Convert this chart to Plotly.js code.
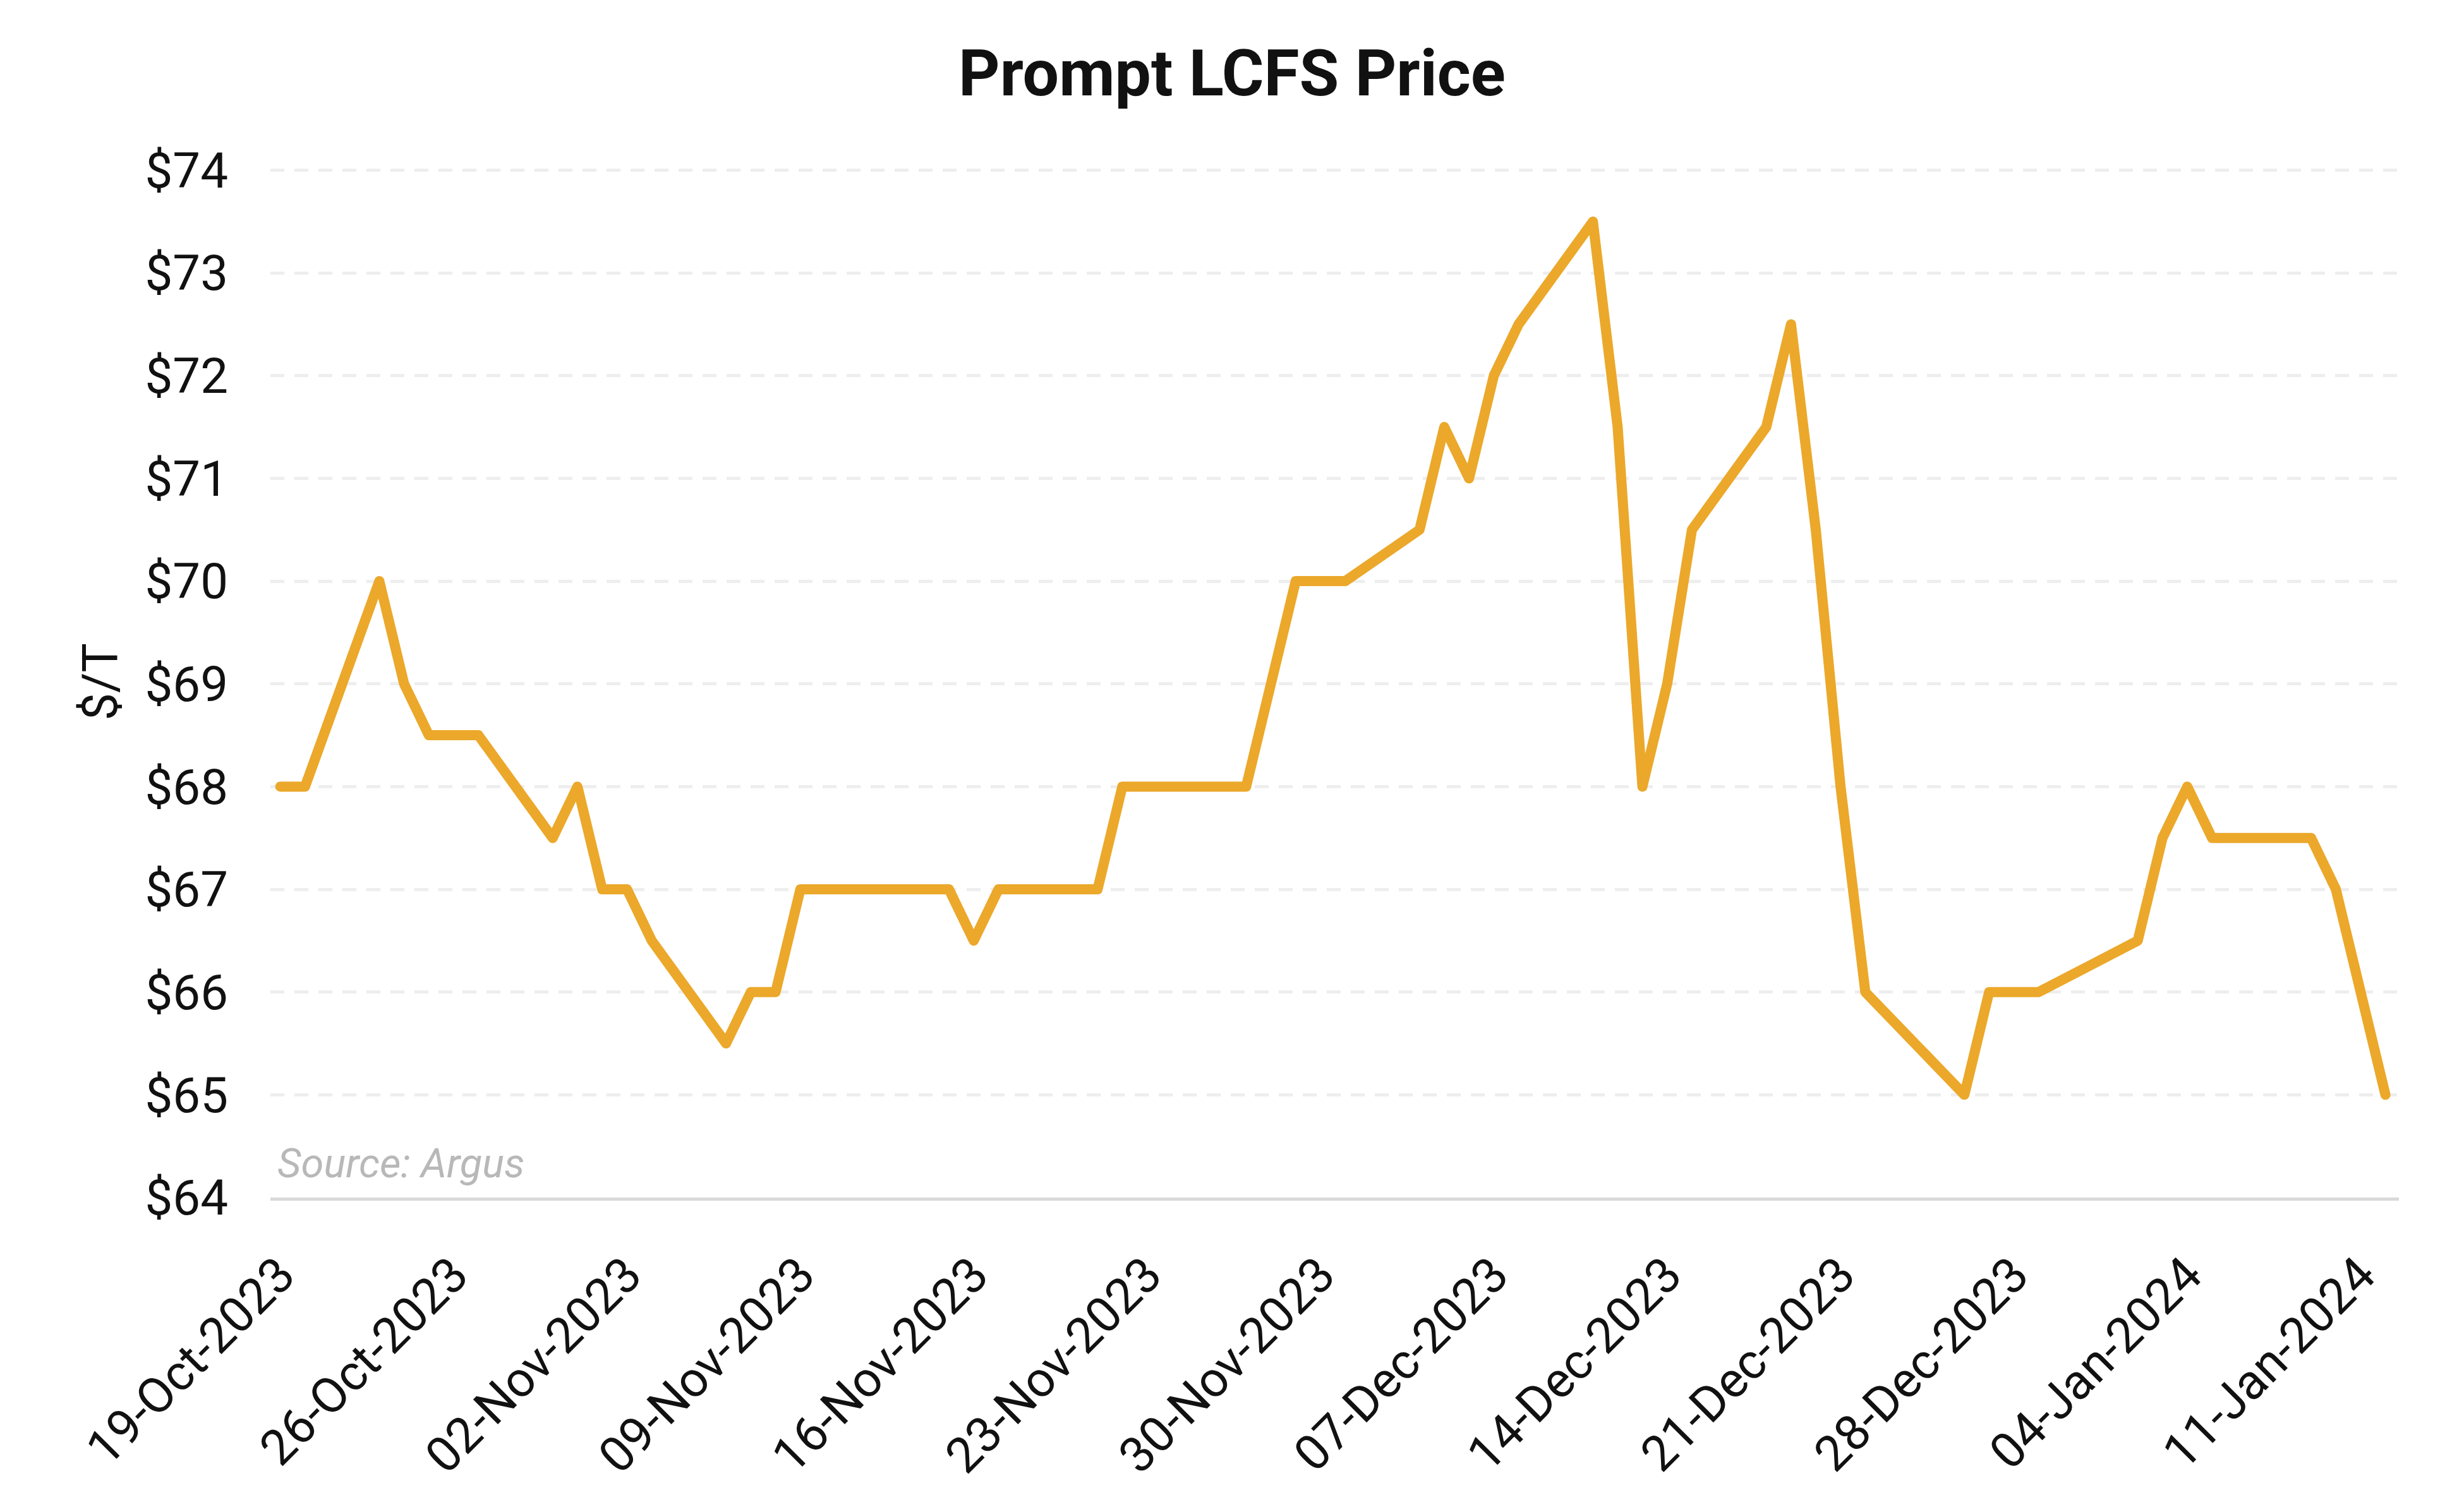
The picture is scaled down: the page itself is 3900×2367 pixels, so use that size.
<!DOCTYPE html>
<html>
<head>
<meta charset="utf-8">
<script src="https://cdn.plot.ly/plotly-3.0.1.min.js"></script>
<style>
  html, body { margin: 0; padding: 0; background: #ffffff; }
  #chart { width: 3900px; height: 2367px; }
  .scatterlayer path.js-line { stroke-linejoin: round !important; stroke-linecap: round !important; }
</style>
</head>
<body>
<div id="chart"></div>
<script>
const dates = [
  '2023-10-19','2023-10-20','2023-10-23','2023-10-24','2023-10-25','2023-10-26','2023-10-27',
  '2023-10-30','2023-10-31','2023-11-01','2023-11-02','2023-11-03',
  '2023-11-06','2023-11-07','2023-11-08','2023-11-09','2023-11-10',
  '2023-11-13','2023-11-14','2023-11-15','2023-11-16','2023-11-17',
  '2023-11-20','2023-11-21','2023-11-22','2023-11-24',
  '2023-11-27','2023-11-28','2023-11-29','2023-11-30','2023-12-01',
  '2023-12-04','2023-12-05','2023-12-06','2023-12-07','2023-12-08',
  '2023-12-11','2023-12-12','2023-12-13','2023-12-14','2023-12-15',
  '2023-12-18','2023-12-19','2023-12-20','2023-12-21','2023-12-22',
  '2023-12-26','2023-12-27','2023-12-28','2023-12-29',
  '2024-01-02','2024-01-03','2024-01-04','2024-01-05',
  '2024-01-08','2024-01-09','2024-01-10','2024-01-11','2024-01-12'
];
const prices = [
  68, 68, 70, 69, 68.5, 68.5, 68.5,
  67.5, 68, 67, 67, 66.5,
  65.5, 66, 66, 67, 67,
  67, 67, 67, 66.5, 67,
  67, 67, 68, 68,
  68, 69, 70, 70, 70,
  70.5, 71.5, 71, 72, 72.5,
  73.5, 71.5, 68, 69, 70.5,
  71.5, 72.5, 70.5, 68, 66,
  65, 66, 66, 66,
  66.5, 67.5, 68, 67.5,
  67.5, 67.5, 67, 66, 65
];
const yTickVals = [64, 65, 66, 67, 68, 69, 70, 71, 72, 73, 74];
const yTickText = ['$64','$65','$66','$67','$68','$69','$70','$71','$72','$73','$74'];
const chartTitle = 'Prompt LCFS Price';
const yTitle = '$/T';
const sourceNote = 'Source: Argus';

const FONT = 'Roboto, "Noto Sans", Arial, sans-serif';

const trace = {
  x: dates,
  y: prices,
  type: 'scatter',
  mode: 'lines',
  line: { color: '#EBA82A', width: 16 },
  hoverinfo: 'skip'
};

const layout = {
  width: 3900,
  height: 2367,
  paper_bgcolor: '#ffffff',
  plot_bgcolor: '#ffffff',
  margin: { l: 428, r: 103, t: 263, b: 471, pad: 0 },
  showlegend: false,
  font: { family: FONT, color: '#111111', size: 78 },
  title: {
    text: chartTitle,
    font: { family: FONT, size: 102, weight: 700, color: '#111111' },
    xref: 'container', x: 0.5, xanchor: 'center',
    yref: 'container', y: 1 - 115 / 2367, yanchor: 'middle'
  },
  xaxis: {
    type: 'date',
    range: ['2023-10-18 14:27', '2024-01-12 13:06'],
    tick0: '2023-10-19',
    dtick: 7 * 86400000,
    tickformat: '%d-%b-%Y',
    tickangle: -45,
    tickfont: { family: FONT, size: 78, color: '#111111' },
    ticks: '',
    ticklabelstandoff: 40,
    showgrid: false,
    zeroline: false,
    showline: true,
    linecolor: '#d9d9d9',
    linewidth: 5,
    automargin: false
  },
  yaxis: {
    range: [64, 74.04],
    tickmode: 'array',
    tickvals: yTickVals,
    ticktext: yTickText,
    tickfont: { family: FONT, size: 78, color: '#111111' },
    ticks: '',
    ticklabelstandoff: 66,
    showgrid: true,
    gridcolor: '#eeeeee',
    gridwidth: 5,
    griddash: '22px,16px',
    zeroline: false,
    showline: false,
    automargin: false,
    title: {
      text: yTitle,
      font: { family: FONT, size: 78, color: '#111111' },
      standoff: 18
    }
  },
  annotations: [{
    text: sourceNote,
    xref: 'paper', yref: 'paper',
    x: 0.0027, y: 0.033,
    xanchor: 'left', yanchor: 'middle',
    showarrow: false,
    font: { family: FONT, size: 65, color: '#b8b8b8', style: 'italic' }
  }]
};

Plotly.newPlot('chart', [trace], layout, { staticPlot: true, displayModeBar: false });
</script>
</body>
</html>
